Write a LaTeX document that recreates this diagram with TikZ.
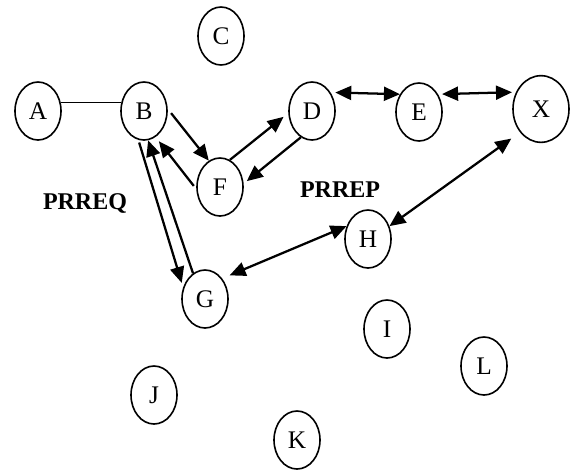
\documentclass[tikz,border=0pt]{standalone}
\usepackage{fontspec}
\setmainfont{Liberation Serif}
\usetikzlibrary{shapes.geometric, arrows.meta}

\begin{document}
\begin{tikzpicture}[
    x=0.75pt, y=-0.75pt,
    station/.style={ellipse, draw, line width=1.2pt, minimum width=34.5pt, minimum height=43.5pt, inner sep=0pt, font=\fontsize{19}{19}\selectfont},
    arr/.style={-{Triangle[length=12pt, width=10.5pt]}, line width=1.7pt},
    biarr/.style={{Triangle[length=12pt, width=10.5pt]}-{Triangle[length=12pt, width=10.5pt]}, line width=1.7pt},
    tag/.style={font=\bfseries\fontsize{18}{18}\selectfont},
]
\useasboundingbox (0,0) rectangle (574,469);

% stations
\node[station] (A) at (38,111) {A};
\node[station] (B) at (144,111) {B};
\node[station] (C) at (221,36) {C};
\node[station] (D) at (312,111) {D};
\node[station] (E) at (419,112) {E};
\node[station, minimum width=42pt, minimum height=50pt] (X) at (541,109) {X};
\node[station] (F) at (220,187) {F};
\node[station] (G) at (205,299) {G};
\node[station] (H) at (368,239) {H};
\node[station] (I) at (387,329) {I};
\node[station] (L) at (484,366) {L};
\node[station] (J) at (154,395) {J};
\node[station] (K) at (297,440) {K};

\node[tag] (req) at (85,203) {PRREQ};
\node[tag] (rep) at (340,190) {PRREP};

% links
\draw[line width=0.9pt] (A.21) -- (B.159);
\draw[arr, shorten <=4pt] (B.5) -- (F.113);
\draw[arr, shorten <=3pt, shorten >=4pt] (F.185) -- (B.-66);
\draw[arr, shorten <=2pt, shorten >=3.5pt] (B.-101) -- (G.152);
\draw[arr] (G.115) -- (B.-82);
\draw[arr, shorten >=4.5pt] (F.70) -- (D.185);
\draw[arr, shorten >=3pt] (D.247) -- (F.8);
\draw[biarr, shorten <=3.5pt] (D.45) -- (E.137);
\draw[biarr, shorten <=3pt, shorten >=3pt] (E.43) -- (X.146);
\draw[biarr, shorten <=8pt] (X.228) -- (H.31);
\draw[biarr, shorten >=6pt] (H.149) -- (G.50);
\end{tikzpicture}
\end{document}
